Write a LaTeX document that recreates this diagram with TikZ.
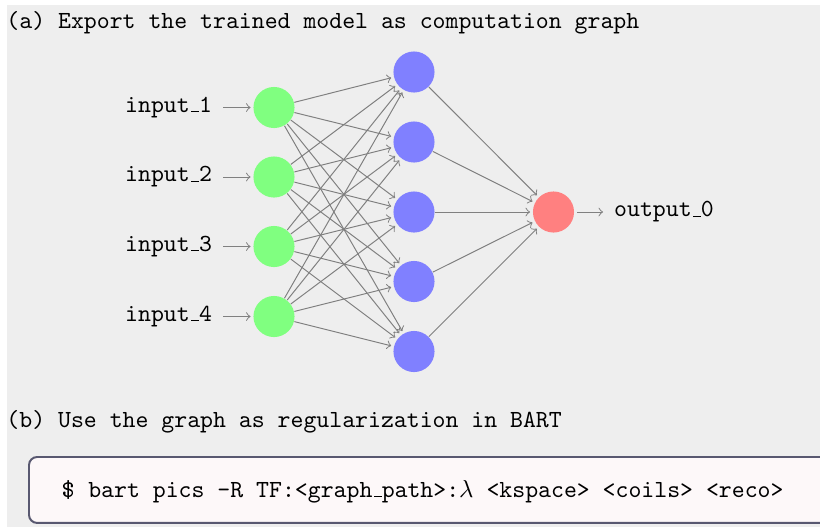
\documentclass[tikz,border=0pt]{standalone}
\usepackage[OT1]{fontenc}
\renewcommand\ttdefault{cmtt}
\renewcommand\rmdefault{cmr}
\definecolor{bggray}{HTML}{EEEEEE}
\definecolor{boxborder}{RGB}{88,88,112}
\definecolor{boxfill}{RGB}{253,248,249}
\newcommand\usc{\leavevmode\kern.06em\vbox{\hrule width.3em}}
\newcommand\cmttfont{\fontencoding{OT1}\fontfamily{cmtt}\selectfont}
\begin{document}
\begin{tikzpicture}[x=0.4065pt,y=-0.4065pt,
  neuron/.style={circle,minimum size=16.7pt,inner sep=0pt},
  inp/.style={neuron,fill=green!50},
  hid/.style={neuron,fill=blue!50},
  outp/.style={neuron,fill=red!50},
  conn/.style={->,draw=black!50,shorten >=1pt},
  pinedge/.style={->,draw=black!50,shorten <=1pt,shorten >=1pt},
  lbl/.style={font=\cmttfont},
  title/.style={font=\cmttfont,anchor=base west,inner sep=0pt}
]
\path[use as bounding box] (0,0) rectangle (820,526);
\clip (0,0) rectangle (820,526);
\fill[white] (0,0) rectangle (820,526);
\fill[bggray] (7,5) rectangle (830,530);

\node[title] (ta) at (6,28) {(a) Export the trained model as computation graph};
\node[title] (tb) at (6,427) {(b) Use the graph as regularization in BART};

% input layer
\foreach \i/\y in {1/107.5,2/177,3/246.5,4/316.5}{
  \node[inp] (I\i) at (274,\y) {};
  \node[lbl,anchor=east] (L\i) at (220.7,\y) {input\usc\i};
  \draw[pinedge] (L\i) -- (I\i);
}
% hidden layer
\foreach \j/\y in {1/72,2/142,3/212,4/281.5,5/351.5}{
  \node[hid] (H\j) at (414,\y) {};
}
% output
\node[outp] (O) at (553.5,212) {};
\node[lbl,anchor=west] (OL) at (605.5,212) {output\usc 0};
\draw[pinedge] (O) -- (OL);

\foreach \i in {1,...,4}{
  \foreach \j in {1,...,5}{
    \draw[conn] (I\i) -- (H\j);
  }
}
\foreach \j in {1,...,5}{
  \draw[conn] (H\j) -- (O);
}

% code box
\node[draw=boxborder,line width=0.8pt,fill=boxfill,rounded corners=3.3pt,
      minimum width=330pt,minimum height=26.8pt,anchor=north west,inner sep=0pt]
      (box) at (28,456) {};
\node[title] (code) at (62,497) {\$ bart pics -R TF:<graph\usc path>:$\lambda$ <kspace> <coils> <reco>};
\end{tikzpicture}
\end{document}
